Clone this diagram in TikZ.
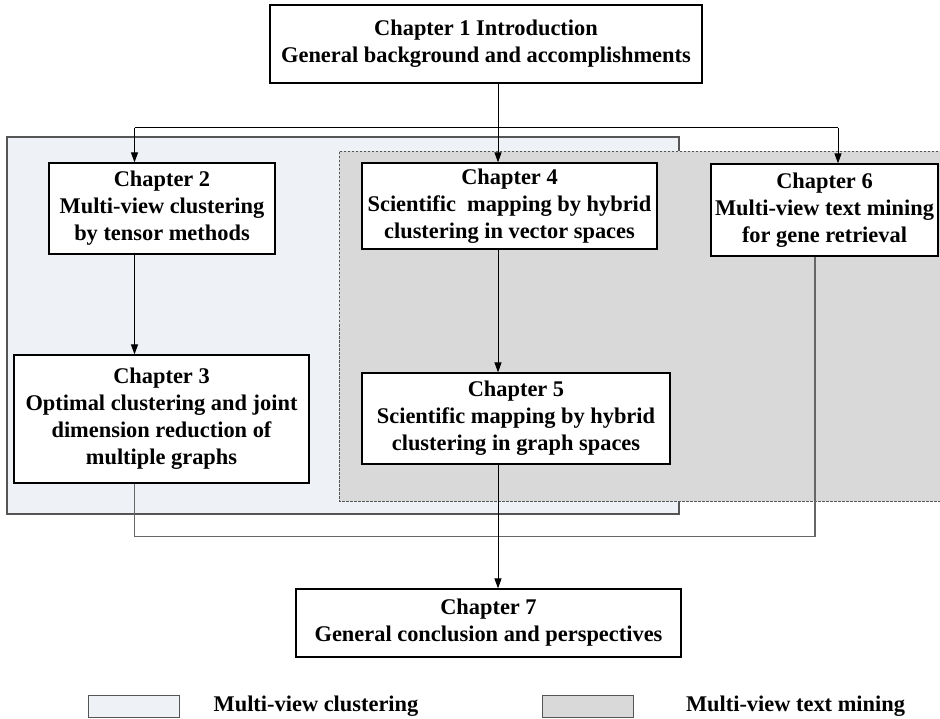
\documentclass[tikz,border=0pt]{standalone}
\usepackage{fontspec}
\setmainfont{Liberation Serif}
\usetikzlibrary{arrows.meta,calc}

\definecolor{clusterfill}{RGB}{238,241,246}
\definecolor{miningfill}{RGB}{217,217,217}
\definecolor{frameline}{RGB}{85,85,85}

\tikzset{
  chapter/.style={draw=black, line width=1.2pt, fill=white, align=center,
    inner sep=0pt, font=\bfseries\fontsize{22.4}{27}\selectfont},
  link/.style={draw=black, line width=1pt},
  arr/.style={link, -{Triangle[length=10pt,width=7pt]}},
  ret/.style={draw=black!60, line width=1.6pt},
  legendtext/.style={font=\bfseries\fontsize{22.4}{27}\selectfont, inner sep=0pt},
}

\begin{document}
\begin{tikzpicture}[x=1pt,y=-1pt]
\useasboundingbox (0,0) rectangle (940,719);

% shaded groups
\filldraw[fill=clusterfill, draw=frameline, line width=1.2pt] (7,137) rectangle (679,514);
\fill[miningfill] (339,151) rectangle (942,501);
\draw[frameline, line width=0.8pt, dash pattern=on 2.5pt off 1.5pt]
  (942,151) -- (339,151) -- (339,501) -- (942,501);

% chapters
\node[chapter, minimum width=432pt, minimum height=78pt] (ch1) at (486,44)
  {Chapter 1 Introduction\\General background and accomplishments};
\node[chapter, minimum width=226pt, minimum height=91pt] (ch2) at (162,208.5)
  {Chapter 2\\Multi-view clustering\\by tensor methods};
\node[chapter, minimum width=295pt, minimum height=86pt] (ch4) at (509.5,206)
  {Chapter 4\\Scientific\ \ mapping by hybrid\\clustering in vector spaces};
\node[chapter, minimum width=227pt, minimum height=92pt] (ch6) at (824.5,210)
  {Chapter 6\\Multi-view text mining\\for gene retrieval};
\node[chapter, minimum width=295pt, minimum height=128pt] (ch3) at (161.5,419)
  {Chapter 3\\Optimal clustering and joint\\dimension reduction of\\multiple graphs};
\node[chapter, minimum width=308pt, minimum height=91pt] (ch5) at (516,418.5)
  {Chapter 5\\Scientific mapping by hybrid\\clustering in graph spaces};
\node[chapter, minimum width=385pt, minimum height=68pt] (ch7) at (488.5,623)
  {Chapter 7\\General conclusion and perspectives};

% connector tracks
\coordinate (xa) at (134.5,0);
\coordinate (xb) at (498,0);
\coordinate (xc) at (838,0);
\coordinate (xd) at (815,0);
\coordinate (bus) at (0,128);
\coordinate (low) at (0,536.5);

\draw[link] (ch1.south -| xb) -- (bus -| xb);
\draw[link] (bus -| xa) -- (bus -| xc);
\draw[arr] (bus -| xa) -- (ch2.north -| xa);
\draw[arr] (bus -| xb) -- (ch4.north -| xb);
\draw[arr] (bus -| xc) -- (ch6.north -| xc);
\draw[arr] (ch2.south -| xa) -- (ch3.north -| xa);
\draw[arr] (ch4.south -| xb) -- (ch5.north -| xb);
\draw[ret] (ch3.south -| xa) -- (low -| xa) -- (low -| xd) -- (ch6.south -| xd);
\draw[arr] (ch5.south -| xb) -- (ch7.north -| xb);

% legend
\node[draw=frameline, line width=1pt, fill=clusterfill, minimum width=91pt,
  minimum height=22pt, inner sep=0pt] (key1) at (133.5,706.5) {};
\node[legendtext] (lab1) at (316,706) {Multi-view clustering};
\node[draw=frameline, line width=1pt, fill=miningfill, minimum width=91pt,
  minimum height=22pt, inner sep=0pt] (key2) at (587.5,706.5) {};
\node[legendtext] (lab2) at (795.5,706) {Multi-view text mining};
\end{tikzpicture}
\end{document}
